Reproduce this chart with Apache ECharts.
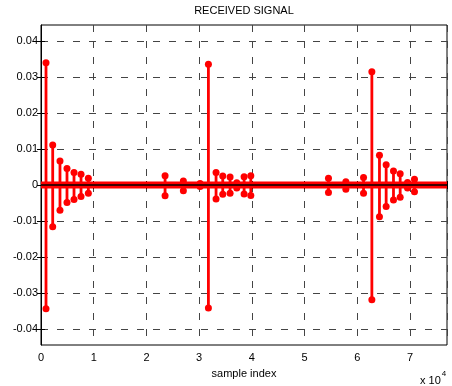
<!DOCTYPE html>
<html>
<head>
<meta charset="utf-8">
<script src="https://cdn.jsdelivr.net/npm/echarts@6/dist/echarts.min.js"></script>
<style>
  html, body { margin: 0; padding: 0; background: #fff; }
  #chart { width: 452px; height: 386px; }
</style>
</head>
<body>
<div id="chart"></div>
<script>
// sample positions of the visible stems
var stemX = [950, 2220, 3600, 4930, 6260, 7590, 8980,
  23530, 27000, 30170, 31750, 33200, 34470, 35860, 37130, 38520, 39790,
  54520, 57820, 61170, 62750, 64190, 65460, 66850, 68120, 69510, 70830];
var posY = [0.0340, 0.0111, 0.0067, 0.0046, 0.0035, 0.0030, 0.0019,
  0.0026, 0.0011, 0.0004, 0.0336, 0.0035, 0.0025, 0.0022, 0.0006, 0.0023, 0.0026,
  0.0019, 0.0009, 0.0021, 0.0315, 0.0083, 0.0056, 0.0039, 0.0031, 0.0007, 0.0016];
var negY = [-0.0344, -0.0116, -0.0070, -0.0049, -0.0040, -0.0032, -0.0023,
  -0.0030, -0.0016, -0.0004, -0.0342, -0.0039, -0.0026, -0.0023, -0.0008, -0.0025, -0.0029,
  -0.0021, -0.0012, -0.0023, -0.0319, -0.0088, -0.0060, -0.0042, -0.0034, -0.0008, -0.0019];
// near-zero samples merge into a band along the baseline
var bandX = [0, 77000];
var bandY = [0, 0];

var xTicks = [0, 10000, 20000, 30000, 40000, 50000, 60000, 70000];
var yTicks = [-0.04, -0.03, -0.02, -0.01, 0, 0.01, 0.02, 0.03, 0.04];

var font = "'Liberation Sans', Arial, sans-serif";

var stemData = [];
for (var i = 0; i < stemX.length; i++) {
  stemData.push([stemX[i], posY[i]]);
  stemData.push([stemX[i], negY[i]]);
}
var bandData = [];
for (var i = 0; i < bandX.length; i++) {
  bandData.push([bandX[i], bandY[i]]);
}

function renderStem(params, api) {
  var p0 = api.coord([api.value(0), 0]);
  var p1 = api.coord([api.value(0), api.value(1)]);
  return {
    type: 'group',
    children: [{
      type: 'line',
      shape: { x1: p0[0], y1: p0[1], x2: p1[0], y2: p1[1] },
      style: { stroke: '#ff0000', lineWidth: 2.8 }
    }, {
      type: 'circle',
      shape: { cx: p1[0], cy: p1[1], r: 3.5 },
      style: { fill: '#ff0000' }
    }]
  };
}

var gridLine = { show: true, lineStyle: { color: '#444', type: [7, 9], width: 1 } };

var myChart = echarts.init(document.getElementById('chart'));
var option = {
  animation: false,
  grid: {
    left: 41, right: 5, top: 25, bottom: 41,
    show: true, borderColor: '#000', borderWidth: 1
  },
  xAxis: [{
    type: 'value',
    min: 0, max: 77000, interval: 10000,
    axisLine: { show: true, lineStyle: { color: '#000' } },
    axisTick: { show: true, inside: true, length: 4, lineStyle: { color: '#000' } },
    axisLabel: {
      color: '#000', fontFamily: font, fontSize: 11, margin: 7,
      formatter: function (v) { return xTicks.indexOf(v) >= 0 ? String(v / 10000) : ''; }
    },
    splitLine: gridLine,
    name: 'sample index', nameLocation: 'middle', nameGap: 23,
    nameTextStyle: { color: '#000', fontFamily: font, fontSize: 11 }
  }, {
    type: 'value', position: 'top',
    min: 0, max: 77000, interval: 10000,
    axisLine: { show: false },
    axisTick: { show: true, inside: true, length: 4, lineStyle: { color: '#000' } },
    axisLabel: { show: false },
    splitLine: { show: false }
  }],
  yAxis: [{
    type: 'value',
    min: -0.0445, max: 0.0445,
    axisLine: { show: true, lineStyle: { color: '#000' } },
    axisTick: { show: true, inside: true, length: 4, lineStyle: { color: '#000' }, customValues: yTicks },
    axisLabel: {
      color: '#000', fontFamily: font, fontSize: 11, margin: 3,
      customValues: yTicks,
      formatter: function (v) { return String(Math.round(v * 100) / 100); }
    },
    splitLine: gridLine
  }, {
    type: 'value', position: 'right',
    min: -0.0445, max: 0.0445,
    axisLine: { show: false },
    axisTick: { show: true, inside: true, length: 4, lineStyle: { color: '#000' }, customValues: yTicks },
    axisLabel: { show: false },
    splitLine: { show: false }
  }],
  graphic: [{
    type: 'text', x: 244, y: 5,
    style: { text: 'RECEIVED SIGNAL', fill: '#000', font: '11px ' + font, align: 'center', verticalAlign: 'top' }
  }, {
    type: 'text', left: 420, top: 370,
    style: {
      text: '{a|x 10}{s|4}',
      rich: {
        a: { fill: '#000', fontFamily: font, fontSize: 11, padding: [8, 0, 0, 0] },
        s: { fill: '#000', fontFamily: font, fontSize: 8, padding: [0, 0, 6, 1] }
      }
    }
  }],
  series: [{
    type: 'custom',
    renderItem: renderStem,
    clip: true,
    data: stemData
  }, {
    type: 'line',
    data: bandData,
    symbol: 'none',
    lineStyle: { color: '#ff0000', width: 7 }
  }, {
    type: 'line',
    data: bandData,
    symbol: 'none',
    lineStyle: { color: '#000', width: 1.5 }
  }]
};
myChart.setOption(option);
window.onresize = myChart.resize;
</script>
</body>
</html>
